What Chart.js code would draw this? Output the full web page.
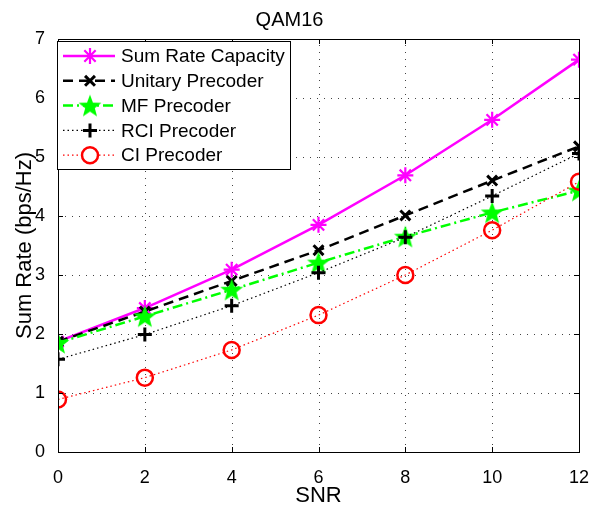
<!DOCTYPE html>
<html>
<head>
<meta charset="utf-8">
<title>QAM16</title>
<script src="https://cdn.jsdelivr.net/npm/chart.js@4/dist/chart.umd.min.js"></script>
<style>
  html, body { margin: 0; padding: 0; background: #fff; }
  #wrap { width: 599px; height: 509px; }
</style>
</head>
<body>
<div id="wrap"><canvas id="qamChart" width="599" height="509"></canvas></div>
<script>
// SNR points (x axis)
const snr = [0, 2, 4, 6, 8, 10, 12];

// series values
const sumRateCapacity = [1.87, 2.44, 3.09, 3.85, 4.69, 5.63, 6.65];
const unitaryPrecoder = [1.87, 2.38, 2.90, 3.42, 4.01, 4.60, 5.18];
const mfPrecoder      = [1.85, 2.30, 2.75, 3.21, 3.65, 4.06, 4.43];
const rciPrecoder     = [1.57, 1.99, 2.48, 3.04, 3.64, 4.34, 5.06];
const ciPrecoder      = [0.89, 1.26, 1.73, 2.32, 3.00, 3.76, 4.58];

const xTicks = [0, 2, 4, 6, 8, 10, 12];
const yTicks = [0, 1, 2, 3, 4, 5, 6, 7];

const FONT = 'Liberation Sans, Arial, Helvetica, sans-serif';

// five point star for the MF markers
function makeStar(size, color) {
    const c = document.createElement('canvas');
    c.width = size;
    c.height = size;
    const g = c.getContext('2d');
    const cx = size / 2, cy = size / 2 + 1;
    const rOut = size / 2 - 1, rIn = rOut * 0.42;
    g.beginPath();
    for (let i = 0; i < 10; i++) {
        const r = i % 2 === 0 ? rOut : rIn;
        const a = -Math.PI / 2 + i * Math.PI / 5;
        const px = cx + r * Math.cos(a), py = cy + r * Math.sin(a);
        if (i === 0) g.moveTo(px, py); else g.lineTo(px, py);
    }
    g.closePath();
    g.fillStyle = color;
    g.fill();
    return c;
}
const starImg = makeStar(26, '#00ff00');

function toPoints(vals) {
    return vals.map((v, i) => ({ x: snr[i], y: v }));
}

const series = [
    { label: 'Sum Rate Capacity', data: sumRateCapacity, color: '#ff00ff', width: 2.5, dash: [],
      point: 'star', radius: 8, pw: 2.2, hollow: false, order: 5 },
    { label: 'Unitary Precoder', data: unitaryPrecoder, color: '#000000', width: 2.5, dash: [10, 6],
      point: 'crossRot', radius: 7, pw: 3, hollow: false, order: 4 },
    { label: 'MF Precoder', data: mfPrecoder, color: '#00ff00', width: 2.5, dash: [10, 4, 2, 4],
      point: starImg, radius: 13, pw: 1, hollow: false, order: 3 },
    { label: 'RCI Precoder', data: rciPrecoder, color: '#000000', width: 1.2, dash: [1.5, 3],
      point: 'cross', radius: 7, pw: 3, hollow: false, order: 2 },
    { label: 'CI Precoder', data: ciPrecoder, color: '#ff0000', width: 1.2, dash: [1.5, 3],
      point: 'circle', radius: 8, pw: 2.5, hollow: true, order: 1 }
];

// dotted grid under the data
const dottedGrid = {
    id: 'dottedGrid',
    beforeDatasetsDraw(chart) {
        const { ctx, chartArea: a, scales } = chart;
        ctx.save();
        ctx.strokeStyle = '#444';
        ctx.lineWidth = 1;
        ctx.setLineDash([1, 6]);
        ctx.beginPath();
        xTicks.forEach(t => {
            const px = Math.round(scales.x.getPixelForValue(t)) + 0.5;
            ctx.moveTo(px, a.bottom); ctx.lineTo(px, a.top);
        });
        yTicks.forEach(t => {
            const py = Math.round(scales.y.getPixelForValue(t)) + 0.5;
            ctx.moveTo(a.left, py); ctx.lineTo(a.right, py);
        });
        ctx.stroke();
        ctx.restore();
    }
};

// box, inward ticks and legend drawn the MATLAB way
const matlabFrame = {
    id: 'matlabFrame',
    afterDraw(chart) {
        const { ctx, chartArea: a, scales } = chart;
        ctx.save();
        ctx.strokeStyle = '#000';
        ctx.lineWidth = 1;
        ctx.setLineDash([]);
        ctx.strokeRect(a.left + 0.5, a.top + 0.5, a.right - a.left, a.bottom - a.top);
        ctx.beginPath();
        xTicks.forEach(t => {
            const px = Math.round(scales.x.getPixelForValue(t)) + 0.5;
            ctx.moveTo(px, a.bottom); ctx.lineTo(px, a.bottom - 5);
            ctx.moveTo(px, a.top); ctx.lineTo(px, a.top + 5);
        });
        yTicks.forEach(t => {
            const py = Math.round(scales.y.getPixelForValue(t)) + 0.5;
            ctx.moveTo(a.left, py); ctx.lineTo(a.left + 5, py);
            ctx.moveTo(a.right, py); ctx.lineTo(a.right - 5, py);
        });
        ctx.stroke();

        // legend
        const lx = a.left - 1, ly = a.top + 2, lw = 233, lh = 128;
        ctx.fillStyle = '#fff';
        ctx.fillRect(lx, ly, lw, lh);
        ctx.strokeRect(lx + 0.5, ly + 0.5, lw, lh);
        ctx.font = '19px ' + FONT;
        ctx.textBaseline = 'middle';
        series.forEach((s, i) => {
            const y = ly + 15 + i * 24.8;
            ctx.strokeStyle = s.color;
            ctx.lineWidth = s.width;
            ctx.setLineDash(s.dash);
            ctx.beginPath();
            ctx.moveTo(lx + 6, y); ctx.lineTo(lx + 58, y);
            ctx.stroke();
            ctx.setLineDash([]);
            ctx.lineWidth = s.pw;
            ctx.fillStyle = s.hollow ? '#fff' : s.color;
            Chart.helpers.drawPoint(ctx, { pointStyle: s.point, radius: s.radius, rotation: 0, borderWidth: s.pw }, lx + 33, y);
            ctx.fillStyle = '#000';
            ctx.fillText(s.label, lx + 64, y + 1);
        });
        ctx.restore();
    }
};

const ctx = document.getElementById('qamChart').getContext('2d');
new Chart(ctx, {
    type: 'line',
    data: {
        datasets: series.map(s => ({
            label: s.label,
            data: toPoints(s.data),
            borderColor: s.color,
            backgroundColor: s.color,
            borderWidth: s.width,
            borderDash: s.dash,
            pointStyle: s.point,
            pointRadius: s.radius,
            pointBorderWidth: s.pw,
            pointBorderColor: s.color,
            pointBackgroundColor: s.hollow ? 'rgba(0,0,0,0)' : s.color,
            tension: 0,
            fill: false,
            order: s.order
        }))
    },
    options: {
        responsive: false,
        animation: false,
        layout: { padding: { top: 0, left: 0, right: 20, bottom: 0 } },
        plugins: {
            legend: { display: false },
            tooltip: { enabled: false },
            title: {
                display: true,
                text: 'QAM16',
                color: '#000',
                font: { family: FONT, size: 20, weight: 'normal', lineHeight: 1.2 },
                padding: { top: 8, bottom: 7 }
            }
        },
        scales: {
            x: {
                type: 'linear',
                min: 0,
                max: 12,
                afterFit(scale) { scale.height = 57; },
                afterBuildTicks(scale) { scale.ticks = xTicks.map(v => ({ value: v })); },
                ticks: { color: '#000', padding: 7, font: { family: FONT, size: 18 } },
                grid: { display: false },
                border: { display: false },
                title: {
                    display: true,
                    text: 'SNR',
                    color: '#000',
                    font: { family: FONT, size: 22 },
                    padding: { top: 0, bottom: 0 }
                }
            },
            y: {
                min: 0,
                max: 7,
                afterFit(scale) { scale.width = 58; },
                afterBuildTicks(scale) { scale.ticks = yTicks.map(v => ({ value: v })); },
                ticks: { color: '#000', padding: 5, font: { family: FONT, size: 18 } },
                grid: { display: false },
                border: { display: false },
                title: {
                    display: true,
                    text: 'Sum Rate (bps/Hz)',
                    color: '#000',
                    font: { family: FONT, size: 22 },
                    padding: { top: 12, bottom: 0 }
                }
            }
        }
    },
    plugins: [dottedGrid, matlabFrame]
});
</script>
</body>
</html>
